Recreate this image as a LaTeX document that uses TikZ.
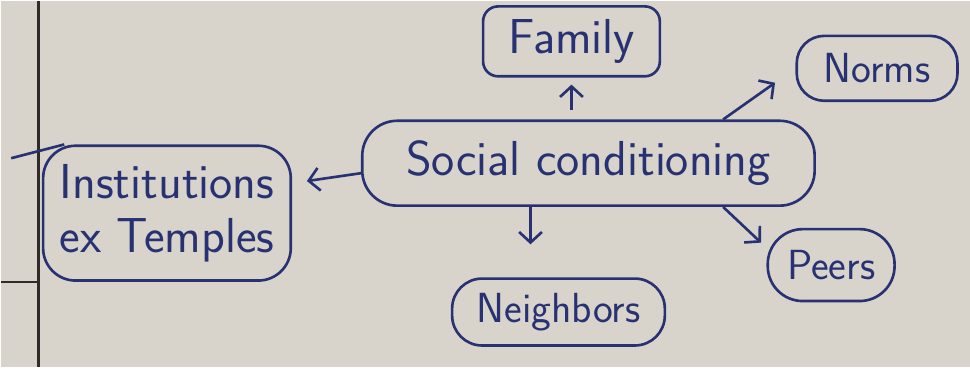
\documentclass[tikz,border=0pt]{standalone}
\usetikzlibrary{arrows.meta}
\definecolor{ink}{RGB}{40,50,115}
\definecolor{paper}{RGB}{216,212,203}
\definecolor{rule}{RGB}{48,42,40}

\begin{document}
\begin{tikzpicture}[x=0.02cm, y=-0.02cm,
    idea/.style={draw=ink, line width=1.5pt, rounded corners=#1, inner sep=0pt,
        text=ink, align=center, font=\sffamily\fontsize{28}{31}\selectfont},
    small/.style={font=\sffamily\fontsize{24}{28}\selectfont},
    link/.style={draw=ink, line width=1.5pt, -{Straight Barb[length=6pt, width=13pt]}}]

    % --- paper and margin lines ---
    \fill[paper] (0,0) rectangle (970,366);
    \draw[rule, line width=1.6pt] (37,0) -- (37,366);
    \draw[rule, line width=1.3pt] (0,281) -- (37,281);

    % --- centre ---
    \node[idea=0.7cm, minimum width=9.06cm, minimum height=1.7cm] (soc) at (588,162) {Social conditioning};

    % --- around it ---
    \node[idea=0.3cm, minimum width=3.54cm, minimum height=1.4cm] (family) at (571,40) {Family};
    \node[idea=0.55cm, minimum width=3.22cm, minimum height=1.3cm, small] (norms) at (877,67) {Norms};
    \node[idea=0.65cm, minimum width=4.96cm, minimum height=2.7cm] (inst) at (166,212) {Institutions\\ex Temples};
    \node[idea=0.6cm, minimum width=4.26cm, minimum height=1.34cm, small] (neighbors) at (558,311) {Neighbors};
    \node[idea=0.7cm, minimum width=2.54cm, minimum height=1.44cm, small] (peers) at (831,264) {Peers};

    % stray stroke over the left box
    \coordinate (stroke) at (10,157);
    \draw[ink, line width=1.5pt] (stroke) -- ([xshift=0.45cm]inst.north west);

    % --- arrows ---
    \draw[link, shorten <=0.18cm, shorten >=0.14cm] (soc.north -| family) -- (family.south);
    \draw[link, shorten >=0.5cm] (soc.18) -- (norms.west);
    \draw[link, shorten >=0.3cm] ([yshift=-0.2cm]soc.west) -- ([yshift=0.6cm]inst.east);
    \draw[link, shorten >=0.66cm] ([xshift=-1.16cm]soc.south) -- ([xshift=-0.56cm]neighbors.north);
    \draw[link, shorten >=0.15cm] (soc.-18) -- (peers.165);

\end{tikzpicture}
\end{document}
